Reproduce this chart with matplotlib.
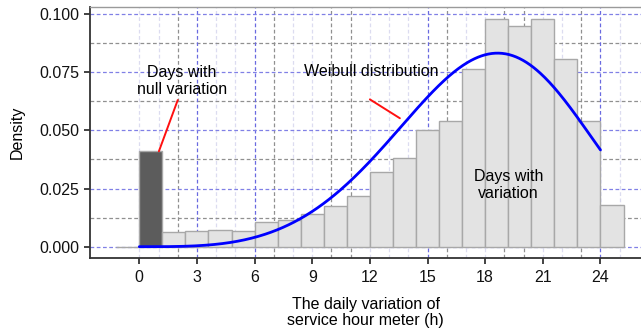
import numpy as np
import matplotlib
matplotlib.use("Agg")
import matplotlib.pyplot as plt

plt.rcParams["font.family"] = ["Liberation Sans", "DejaVu Sans"]

# Histogram of daily hour-meter variation (density per 1.2 h bin)
bin_left = [-1.2, 0.0, 1.2, 2.4, 3.6, 4.8, 6.0, 7.2, 8.4, 9.6, 10.8,
            12.0, 13.2, 14.4, 15.6, 16.8, 18.0, 19.2, 20.4, 21.6, 22.8, 24.0]
bin_width = 1.2
density = [0.0, 0.041, 0.0062, 0.0069, 0.0072, 0.0069, 0.0106, 0.0115, 0.014,
           0.0175, 0.0218, 0.032, 0.038, 0.0502, 0.0541, 0.0764, 0.0979,
           0.095, 0.0979, 0.0805, 0.054, 0.0179]
null_bin = 1  # index of the bar for days with no variation

# Fitted Weibull distribution
weibull_shape = 4.35
weibull_scale = 19.8
curve_range = (0.0, 24.0)

x_ticks = [0, 3, 6, 9, 12, 15, 18, 21, 24]
y_ticks = [0.000, 0.025, 0.050, 0.075, 0.100]
y_tick_labels = ["0.000", "0.025", "0.050", "0.075", "0.100"]

# Background guide lines
grid_blue_x = [3, 6, 15, 24]
grid_gray_x = [2, 7, 10, 11, 16, 19, 20, 23]
grid_faint_x = [0, 1, 4, 5, 8, 9, 12, 13, 14, 17, 18, 21, 22, 25]
grid_blue_y = [0.0, 0.025, 0.05, 0.075, 0.1]
grid_gray_y = [0.0125, 0.0375, 0.0625, 0.0875]


def weibull_pdf(x, k, lam):
    z = x / lam
    return (k / lam) * z ** (k - 1) * np.exp(-z ** k)


fig = plt.figure(figsize=(6.41, 3.31), dpi=100)
ax = fig.add_axes([90 / 641, 73 / 331, 1 - 90 / 641, 251 / 331])

ax.set_xlim(-2.566, 26.11)
ax.set_ylim(-0.00486, 0.103)

for x in grid_faint_x:
    ax.axvline(x, color="#dcdcf0", lw=0.9, ls=(0, (3, 2)), zorder=0.5)
for x in grid_gray_x:
    ax.axvline(x, color="#909090", lw=0.9, ls=(0, (3, 2)), zorder=0.6)
for x in grid_blue_x:
    ax.axvline(x, color="#6a6ae0", lw=0.9, ls=(0, (3, 2)), zorder=0.7)
for y in grid_gray_y:
    ax.axhline(y, color="#909090", lw=0.9, ls=(0, (3, 2)), zorder=0.6)
for y in grid_blue_y:
    ax.axhline(y, color="#8080e6", lw=0.9, ls=(0, (3, 2)), zorder=0.7)

colors = ["#e3e3e3"] * len(density)
colors[null_bin] = "#5c5c5c"
ax.bar(bin_left, density, width=bin_width, align="edge", color=colors,
       edgecolor="#a8a8a8", linewidth=1.0, zorder=2)

xs = np.linspace(curve_range[0], curve_range[1], 400)
ax.plot(xs, weibull_pdf(xs, weibull_shape, weibull_scale), color="#0000ff",
        lw=2.0, zorder=3, solid_capstyle="round")

# Labels with their pointers
ax.text(2.2, 0.0712, "Days with\nnull variation", ha="center", va="center",
        fontsize=11.5, linespacing=1.15, zorder=4)
ax.annotate("", xy=(bin_left[null_bin] + bin_width * 0.85, density[null_bin]),
            xytext=(2.0, 0.063),
            arrowprops=dict(arrowstyle="-", color="#ff1010", lw=1.4,
                            shrinkA=0, shrinkB=0), zorder=4)

ax.text(12.05, 0.0752, "Weibull distribution", ha="center", va="center",
        fontsize=11.5, zorder=4)
ax.annotate("", xy=(13.56, 0.0552), xytext=(12.0, 0.0633),
            arrowprops=dict(arrowstyle="-", color="#ff1010", lw=1.4,
                            shrinkA=0, shrinkB=0), zorder=4)

ax.text(19.2, 0.0265, "Days with\nvariation", ha="center", va="center",
        fontsize=11.5, linespacing=1.15, zorder=4)

ax.set_xticks(x_ticks)
ax.set_xticklabels([str(t) for t in x_ticks])
ax.set_yticks(y_ticks)
ax.set_yticklabels(y_tick_labels)
ax.tick_params(axis="both", labelsize=11.5, length=4, width=1.2,
               color="#222222", labelcolor="#111111")
ax.tick_params(axis="x", pad=5)

ax.set_xlabel("The daily variation of\nservice hour meter (h)", fontsize=11.5,
              labelpad=8, linespacing=1.15)
ax.set_ylabel("Density", fontsize=11.5, labelpad=11)

for side in ("left", "bottom"):
    ax.spines[side].set_color("#333333")
    ax.spines[side].set_linewidth(1.3)
ax.spines["top"].set_color("#9a9a9a")
ax.spines["top"].set_linewidth(1.0)
ax.spines["right"].set_visible(False)
ax.set_facecolor("white")

fig.savefig("out.png", dpi=100)
